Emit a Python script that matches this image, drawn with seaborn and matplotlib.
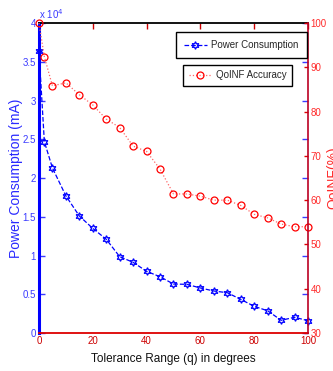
import numpy as np
import pandas as pd
import seaborn as sns
import matplotlib
matplotlib.use("Agg")
import matplotlib.pyplot as plt
from matplotlib.lines import Line2D

# ---- data ----
tolerance = [0, 2, 5, 10, 15, 20, 25, 30, 35, 40, 45, 50, 55, 60, 65, 70, 75, 80, 85, 90, 95, 100]
power = [36400, 24700, 21300, 17700, 15100, 13500, 12100, 9850, 9120, 7960, 7260,
         6320, 6280, 5810, 5420, 5200, 4340, 3440, 2870, 1640, 2030, 1590]
qoinf = [100, 92.4, 85.8, 86.5, 83.8, 81.5, 78.3, 76.4, 72.2, 71.0, 67.0,
         61.4, 61.4, 60.9, 60.0, 60.0, 58.8, 56.8, 56.0, 54.6, 54.0, 54.0]
x_ticks = [0, 20, 40, 60, 80, 100]
left_ticks = [0, 5000, 10000, 15000, 20000, 25000, 30000, 35000, 40000]
left_tick_labels = ["0", "0.5", "1", "1.5", "2", "2.5", "3", "3.5", "4"]
right_ticks = [30, 40, 50, 60, 70, 80, 90, 100]

df = pd.DataFrame({"tol": tolerance, "power": power, "qoinf": qoinf})

sns.set_style("white")
plt.rcParams["font.family"] = ["Liberation Sans", "DejaVu Sans"]

BLUE = "#0000ff"
LBLUE = "#3a3aff"
RED = "#ff0000"
DRED = "#cc0000"
STAR = (6, 1, 0)

fig = plt.figure(figsize=(3.33, 3.71), dpi=100)
ax = fig.add_axes([0.117, 0.1024, 0.808, 0.8356])
ax2 = ax.twinx()

sns.lineplot(data=df, x="tol", y="power", ax=ax, color=BLUE, linestyle="--",
             marker=STAR, markersize=5.5, markerfacecolor="none",
             markeredgecolor=BLUE, markeredgewidth=0.9, linewidth=0.9, clip_on=False)
sns.lineplot(data=df, x="tol", y="qoinf", ax=ax2, color="#ff6666", linestyle=":",
             marker="o", markersize=5, markerfacecolor="none",
             markeredgecolor=RED, markeredgewidth=0.9, linewidth=0.9, clip_on=False)

ax.set_xlim(0, 100)
ax.set_ylim(0, 40000)
ax2.set_ylim(30, 100)
ax.set_xticks(x_ticks)
ax.set_xticklabels([str(t) for t in x_ticks])
ax.set_yticks(left_ticks)
ax.set_yticklabels(left_tick_labels)
ax2.set_yticks(right_ticks)
ax2.set_yticklabels([str(t) for t in right_ticks])

ax.tick_params(axis="y", colors=LBLUE, direction="in", length=4, width=1,
               right=True, labelright=False, labelsize=7, pad=2)
ax.tick_params(axis="x", colors=DRED, direction="in", length=4, width=1,
               top=True, labelsize=7, pad=2)
for t in ax.xaxis.get_major_ticks():
    t.tick2line.set_color("black")
ax2.tick_params(axis="y", colors="#dd0000", labelcolor="#ff2a2a", direction="in",
                length=3, width=1, labelsize=7, pad=2)

for s in ["left", "right", "top", "bottom"]:
    ax2.spines[s].set_visible(s == "right")
ax2.spines["right"].set_color("#bb0022")
ax2.spines["right"].set_linewidth(1.2)
ax.spines["right"].set_visible(False)
ax.spines["left"].set_color(BLUE)
ax.spines["left"].set_linewidth(2.2)
ax.spines["bottom"].set_color("#dd0000")
ax.spines["bottom"].set_linewidth(1.3)
ax.spines["top"].set_color("black")
ax.spines["top"].set_linewidth(1.3)

ax.set_xlabel("Tolerance Range (q) in degrees", fontsize=8.5, color="#111111", labelpad=5)
ax.set_ylabel("Power Consumption (mA)", fontsize=10, color="#2a2aff")
ax.yaxis.set_label_coords(-0.058, 0.5)
ax2.set_ylabel("")
fig.text(326 / 333, 0.52, "QoINF(%)", rotation=90, ha="left", va="center",
         fontsize=10, color="#ff2a2a")
fig.text(39 / 333, 1 - 14 / 371, r"x 10$^4$", ha="left", va="center",
         fontsize=7, color=LBLUE)

h1 = Line2D([], [], color=BLUE, linestyle="--", marker=STAR, markersize=5.5,
            markerfacecolor="none", markeredgewidth=0.9, linewidth=0.9)
h2 = Line2D([], [], color="#ff6666", linestyle=":", marker="o", markersize=5,
            markerfacecolor="none", markeredgecolor=RED, markeredgewidth=0.9, linewidth=0.9)
leg1 = fig.legend([h1], ["Power Consumption"], loc="upper right",
                  bbox_to_anchor=(0.922, 0.914), frameon=True, fancybox=False,
                  edgecolor="black", framealpha=1, fontsize=7, handlelength=2.3,
                  borderpad=0.85, handletextpad=0.5, borderaxespad=0)
leg1.get_frame().set_linewidth(1)
leg2 = fig.legend([h2], ["QoINF Accuracy"], loc="upper right",
                  bbox_to_anchor=(0.877, 0.825), frameon=True, fancybox=False,
                  edgecolor="black", framealpha=1, fontsize=7, handlelength=2.3,
                  borderpad=0.55, handletextpad=0.5, borderaxespad=0)
leg2.get_frame().set_linewidth(1)

fig.savefig("out.png", dpi=100)
